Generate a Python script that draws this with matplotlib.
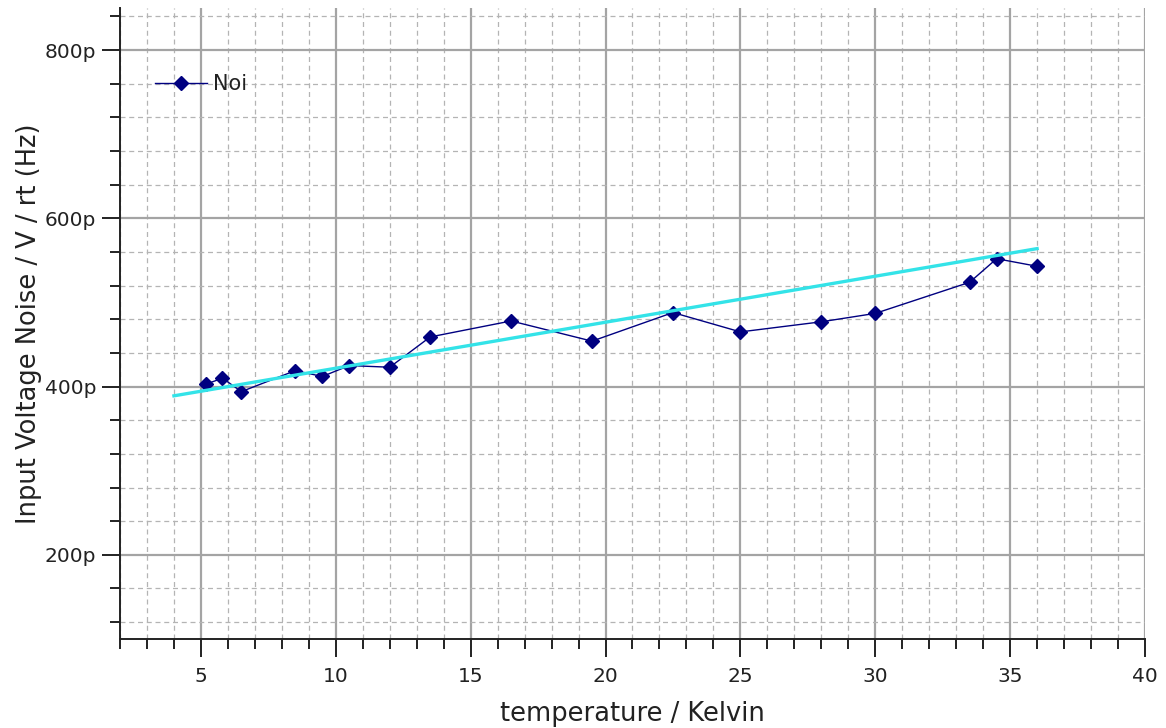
import matplotlib
matplotlib.use("Agg")
import matplotlib.pyplot as plt
from matplotlib.ticker import MultipleLocator, FuncFormatter

# measured noise, temperature in K, noise in pV / rt(Hz)
temp_k = [5.2, 5.8, 6.5, 8.5, 9.5, 10.5, 12.0, 13.5, 16.5, 19.5, 22.5, 25.0, 28.0, 30.0, 33.5, 34.5, 36.0]
noise_p = [403, 410, 394, 419, 412, 425, 423, 459, 478, 454, 488, 465, 477, 487, 524, 552, 543]

# straight fit line (cyan), end points
fit_x = [4.0, 36.0]
fit_y = [389, 564]

DPI = 100
fig = plt.figure(figsize=(1166 / DPI, 728 / DPI), dpi=DPI)
ax = fig.add_axes([0.1029, 0.1223, 0.8791, 0.8667])

ax.plot(temp_k, noise_p, color='#000080', lw=1.0, marker='D', markersize=7.5,
        markerfacecolor='#000080', markeredgecolor='#000080', label='Noi', zorder=4)
ax.plot(fit_x, fit_y, color='#33e3e8', lw=2.4, zorder=5)

ax.set_xlim(2, 40)
ax.set_ylim(100, 850)

ax.xaxis.set_major_locator(MultipleLocator(5))
ax.xaxis.set_minor_locator(MultipleLocator(1))
ax.yaxis.set_major_locator(MultipleLocator(200))
ax.yaxis.set_minor_locator(MultipleLocator(40))
ax.yaxis.set_major_formatter(FuncFormatter(lambda v, pos: "%dp" % v))

# grids: solid major, dashed minor
ax.grid(which='major', color='#a4a4a4', lw=1.6, ls='-', zorder=1)
ax.grid(which='minor', color='#b4b4b4', lw=0.9, ls=(0, (4, 3)), zorder=0)
ax.set_axisbelow(True)

for s in ['top', 'right']:
    ax.spines[s].set_visible(False)
for s in ['left', 'bottom']:
    ax.spines[s].set_linewidth(1.4)
    ax.spines[s].set_color('#222222')

ax.tick_params(which='major', length=13, width=1.4, color='#222222', labelsize=14.5,
               labelcolor='#222222')
ax.tick_params(axis='y', which='major', pad=4)
ax.tick_params(axis='x', which='major', pad=7)
ax.tick_params(which='minor', length=7.5, width=1.4, color='#222222')

ax.set_xlabel('temperature / Kelvin', fontsize=18.5, color='#222222')
ax.set_ylabel('Input Voltage Noise / V / rt (Hz)', fontsize=18.5, color='#222222')
ax.xaxis.set_label_coords(0.5, -0.098)
ax.yaxis.set_label_coords(-0.076, 0.5)

leg = ax.legend(loc='upper left', bbox_to_anchor=(0.016, 0.925), frameon=False,
                fontsize=15, handlelength=2.5, handletextpad=0.3)
for t in leg.get_texts():
    t.set_color('#222222')

fig.savefig('out.png', dpi=DPI)
